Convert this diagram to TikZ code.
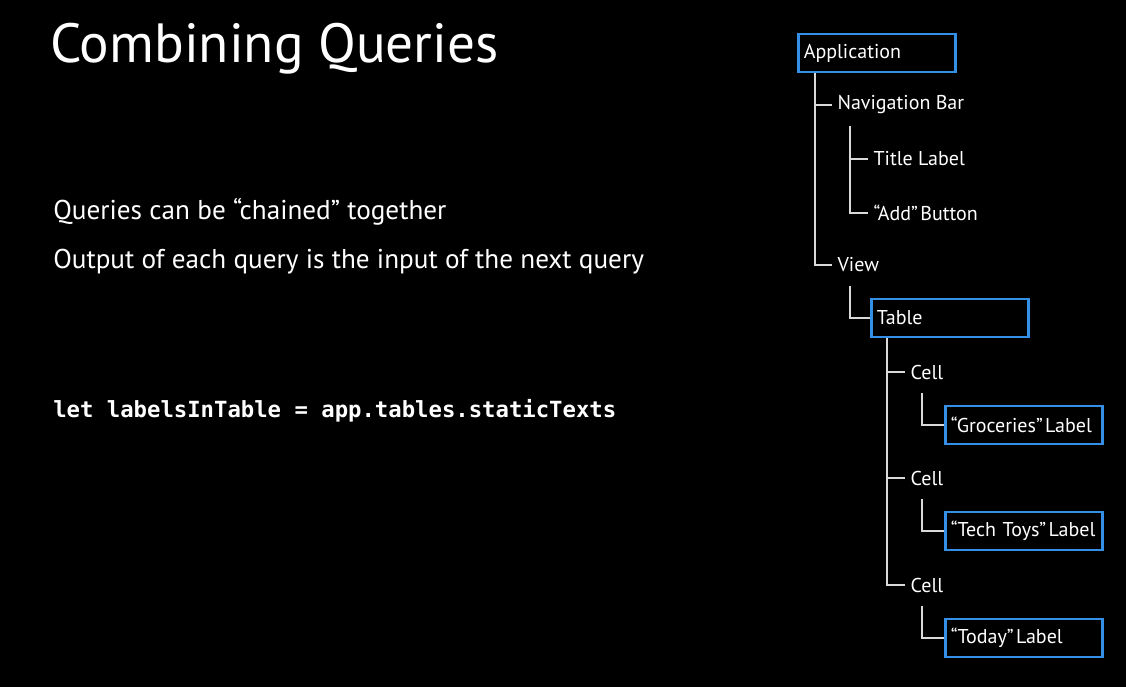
\documentclass[tikz,border=0pt]{standalone}
\usepackage{fontspec}
\setmainfont{PT Sans}
\setmonofont{DejaVu Sans Mono}
\usetikzlibrary{calc}
\definecolor{hitblue}{RGB}{52,144,230}
\colorlet{treeline}{white!85!black}
\tikzset{
  item/.style={anchor=west, text=white, font=\fontsize{15}{18}\selectfont,
    inner xsep=4pt, inner ysep=0pt, minimum height=31.5pt},
  hit/.style={item, draw=hitblue, line width=2.2pt, text width=110pt,
    align=left, minimum height=28.5pt},
  branch/.style={draw=treeline, line width=1.6pt},
  slide/.style={anchor=base west, text=white, inner sep=0pt},
}

\begin{document}
\begin{tikzpicture}[x=0.75pt,y=-0.75pt]
\fill[black] (0,0) rectangle (1126,687);
\useasboundingbox (0,0) rectangle (1126,687);
% left half of the slide
\node[slide, font=\fontsize{41.4}{46}\selectfont] (heading) at (50,62) {Combining Queries};
\node[slide, font=\fontsize{20.4}{24}\selectfont] (point1) at (53,219) {Queries can be “chained” together};
\node[slide, font=\fontsize{20.4}{24}\selectfont] (point2) at (53,268) {Output of each query is the input of the next query};
\node[slide, font=\fontsize{16.7}{20}\ttfamily\bfseries] (query) at (53,417) {let labelsInTable = app.tables.staticTexts};
% element tree, matched elements boxed
\node[hit] (app) at (797,53) {Application};
\node[item] (nav) at (832,105) {Navigation Bar};
\node[item] (titlelab) at (868,159) {Title Label};
\node[item] (addbtn) at (868,213) {“Add”\hspace{0.12em}Button};
\node[item] (view) at (832,265) {View};
\node[hit] (table) at (870,318) {Table};
\draw[branch] ($(app.south west)+(18,0)$) |- (nav.west);
\draw[branch] ($(app.south west)+(18,0)$) |- (view.west);
\draw[branch] ($(nav.south west)+(18,0)$) |- (titlelab.west);
\draw[branch] ($(nav.south west)+(18,0)$) |- (addbtn.west);
\draw[branch] ($(view.south west)+(18,0)$) |- (table.west);
\foreach \c/\l/\y in {1/Groceries/372, 2/Tech Toys/478, 3/Today/585}{
  \node[item] (cell\c) at (905,\y) {Cell};
  \node[hit] (lab\c) at (944,\y+53) {\mbox{“\l”\hspace{0.12em}Label}};
  \draw[branch] ($(table.south west)+(17,0)$) |- (cell\c.west);
  \draw[branch] ($(cell\c.south west)+(17,0)$) |- (lab\c.west);}
\end{tikzpicture}
\end{document}
